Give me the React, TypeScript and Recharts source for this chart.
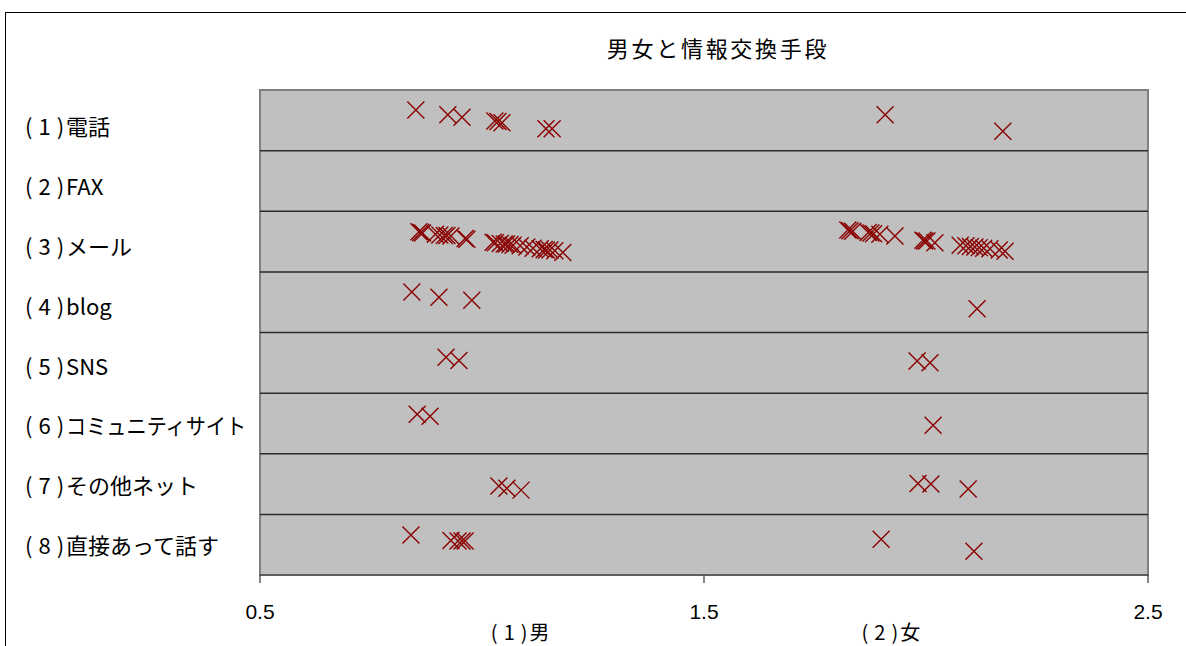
import React from 'react';
import { ScatterChart, Scatter, XAxis, YAxis, ReferenceArea, ReferenceLine } from 'recharts';

// category (row) labels, top to bottom
const rowLabels = [
  '(1)電話',
  '(2)FAX',
  '(3)メール',
  '(4)blog',
  '(5)SNS',
  '(6)コミュニティサイト',
  '(7)その他ネット',
  '(8)直接あって話す',
];
const rowCenters = [0.5, 1.5, 2.5, 3.5, 4.5, 5.5, 6.5, 7.5];
const rowBoundaries = [1, 2, 3, 4, 5, 6, 7];

const xTicks = [0.5, 1.5, 2.5];
const genderLabels = ['(1)男', '(2)女'];
const genderTickX = [1.086, 1.921];

const title = '男女と情報交換手段';

// points: [x, y]  (y = row band position, 0 at top)
const phone: [number, number][] = [
  [0.851, 0.33], [0.923, 0.41], [0.955, 0.45], [1.029, 0.51], [1.036, 0.52], [1.045, 0.54],
  [1.144, 0.64], [1.158, 0.64], [1.908, 0.41], [2.173, 0.68],
];
const fax: [number, number][] = [];
const mail: [number, number][] = [
  [0.858, 2.34], [0.862, 2.35], [0.866, 2.36], [0.895, 2.38], [0.905, 2.39], [0.915, 2.40],
  [0.921, 2.40], [0.930, 2.41], [0.962, 2.45], [0.966, 2.46],
  [1.025, 2.51], [1.030, 2.52], [1.041, 2.53], [1.050, 2.54], [1.055, 2.54], [1.063, 2.55],
  [1.070, 2.56], [1.086, 2.57], [1.101, 2.59], [1.115, 2.61], [1.131, 2.62], [1.140, 2.63],
  [1.145, 2.64], [1.153, 2.64], [1.164, 2.65], [1.182, 2.68],
  [1.824, 2.31], [1.829, 2.32], [1.835, 2.33], [1.870, 2.35], [1.876, 2.36], [1.882, 2.37],
  [1.896, 2.38], [1.930, 2.41], [1.993, 2.48], [1.997, 2.49], [2.002, 2.49], [2.020, 2.52],
  [2.077, 2.56], [2.090, 2.57], [2.100, 2.58], [2.110, 2.59], [2.120, 2.60], [2.130, 2.61],
  [2.144, 2.62], [2.165, 2.64], [2.178, 2.66],
];
const blog: [number, number][] = [
  [0.842, 3.33], [0.903, 3.42], [0.977, 3.47], [2.115, 3.61],
];
const sns: [number, number][] = [
  [0.919, 4.41], [0.948, 4.46], [1.980, 4.47], [2.009, 4.50],
];
const community: [number, number][] = [
  [0.854, 5.35], [0.883, 5.38], [2.016, 5.53],
];
const otherNet: [number, number][] = [
  [1.038, 6.53], [1.056, 6.57], [1.088, 6.60], [1.982, 6.49], [2.011, 6.50], [2.095, 6.58],
];
const faceToFace: [number, number][] = [
  [0.840, 7.34], [0.930, 7.43], [0.946, 7.44], [0.955, 7.44], [0.962, 7.44], [1.899, 7.41], [2.108, 7.61],
];

const series = [phone, fax, mail, blog, sns, community, otherNet, faceToFace];

const MARK = '#8B0000';
const JP = '"Noto Sans CJK JP", "Noto Sans", sans-serif';

const XMark = (props: any) => {
  const { cx, cy } = props;
  if (cx == null || cy == null) return null;
  const h = 8.5;
  return (
    <path
      d={`M${cx - h},${cy - h}L${cx + h},${cy + h}M${cx - h},${cy + h}L${cx + h},${cy - h}`}
      stroke={MARK}
      strokeWidth={1.4}
      fill="none"
    />
  );
};

const splitLabel = (s: string) => {
  const m = s.match(/^\((\d)\)(.*)$/);
  return m ? [m[1], m[2]] : ['', s];
};

const YTick = (props: any) => {
  const { y, payload } = props;
  const i = rowCenters.indexOf(payload.value);
  if (i < 0) return null;
  const [num, name] = splitLabel(rowLabels[i]);
  const long = name.length > 8;
  return (
    <text x={25} y={y + 4.5 - 0.7 * i} dominantBaseline="central" fontSize={22} fontFamily={JP} fill="#000">
      <tspan>(</tspan>
      <tspan dx={6}>{num}</tspan>
      <tspan dx={6}>)</tspan>
      {long ? (
        <tspan dx={2} textLength={180} lengthAdjust="spacingAndGlyphs">{name}</tspan>
      ) : (
        <tspan dx={2}>{name}</tspan>
      )}
    </text>
  );
};

const GenderTick = (props: any) => {
  const { x, y, payload } = props;
  const i = genderTickX.indexOf(payload.value);
  if (i < 0) return null;
  const [num, name] = splitLabel(genderLabels[i]);
  return (
    <text x={x} y={y + 16} textAnchor="middle" dominantBaseline="central" fontSize={20} fontFamily={JP} fill="#000">
      <tspan>(</tspan>
      <tspan dx={6}>{num}</tspan>
      <tspan dx={6}>)</tspan>
      <tspan dx={2}>{name}</tspan>
    </text>
  );
};

export default function App() {
  return (
    <div style={{ position: 'absolute', left: 0, top: 0, width: 1186, height: 646, overflow: 'hidden', background: '#fff' }}>
      <div
        style={{
          position: 'absolute', left: 5, top: 12, width: 1300, height: 800,
          border: '1.5px solid #000', boxSizing: 'border-box',
        }}
      />
      <div
        style={{
          position: 'absolute', left: 468, top: 34, width: 500, textAlign: 'center',
          fontFamily: JP, fontSize: 22, lineHeight: '26px', letterSpacing: 2.7, color: '#000',
        }}
      >
        {title}
      </div>
      <div style={{ position: 'absolute', left: 0, top: 0 }}>
        <ScatterChart width={1186} height={646} margin={{ top: 90, right: 38, bottom: 0, left: 10 }}>
          <XAxis
            xAxisId={0}
            type="number"
            dataKey="x"
            domain={[0.5, 2.5]}
            ticks={xTicks}
            tickSize={8}
            tickMargin={21}
            height={40}
            axisLine={{ stroke: '#555', strokeWidth: 1.5 }}
            tickLine={{ stroke: '#333', strokeWidth: 1.2 }}
            tick={{ fontSize: 21, fill: '#000', fontFamily: '"Liberation Sans", Arial, sans-serif' }}
            allowDataOverflow
          />
          <XAxis
            xAxisId="g"
            type="number"
            dataKey="x"
            domain={[0.5, 2.5]}
            ticks={genderTickX}
            tickSize={0}
            tickMargin={0}
            height={31}
            axisLine={false}
            tickLine={false}
            tick={<GenderTick />}
            allowDataOverflow
          />
          <YAxis
            type="number"
            dataKey="y"
            domain={[0, 8]}
            reversed
            ticks={rowCenters}
            width={250}
            axisLine={false}
            tickLine={false}
            tick={<YTick />}
            interval={0}
            allowDataOverflow
          />
          <ReferenceArea
            xAxisId={0}
            x1={0.5}
            x2={2.5}
            y1={0}
            y2={8}
            fill="#C0C0C0"
            fillOpacity={1}
            stroke="#808080"
            strokeWidth={2}
          />
          {rowBoundaries.map((b) => (
            <ReferenceLine key={b} xAxisId={0} y={b} stroke="#2a2a2a" strokeWidth={1.5} />
          ))}
          {series.map((s, i) => (
            <Scatter
              key={i}
              xAxisId={0}
              data={s.map(([x, y]) => ({ x, y }))}
              shape={<XMark />}
              isAnimationActive={false}
            />
          ))}
        </ScatterChart>
      </div>
    </div>
  );
}
